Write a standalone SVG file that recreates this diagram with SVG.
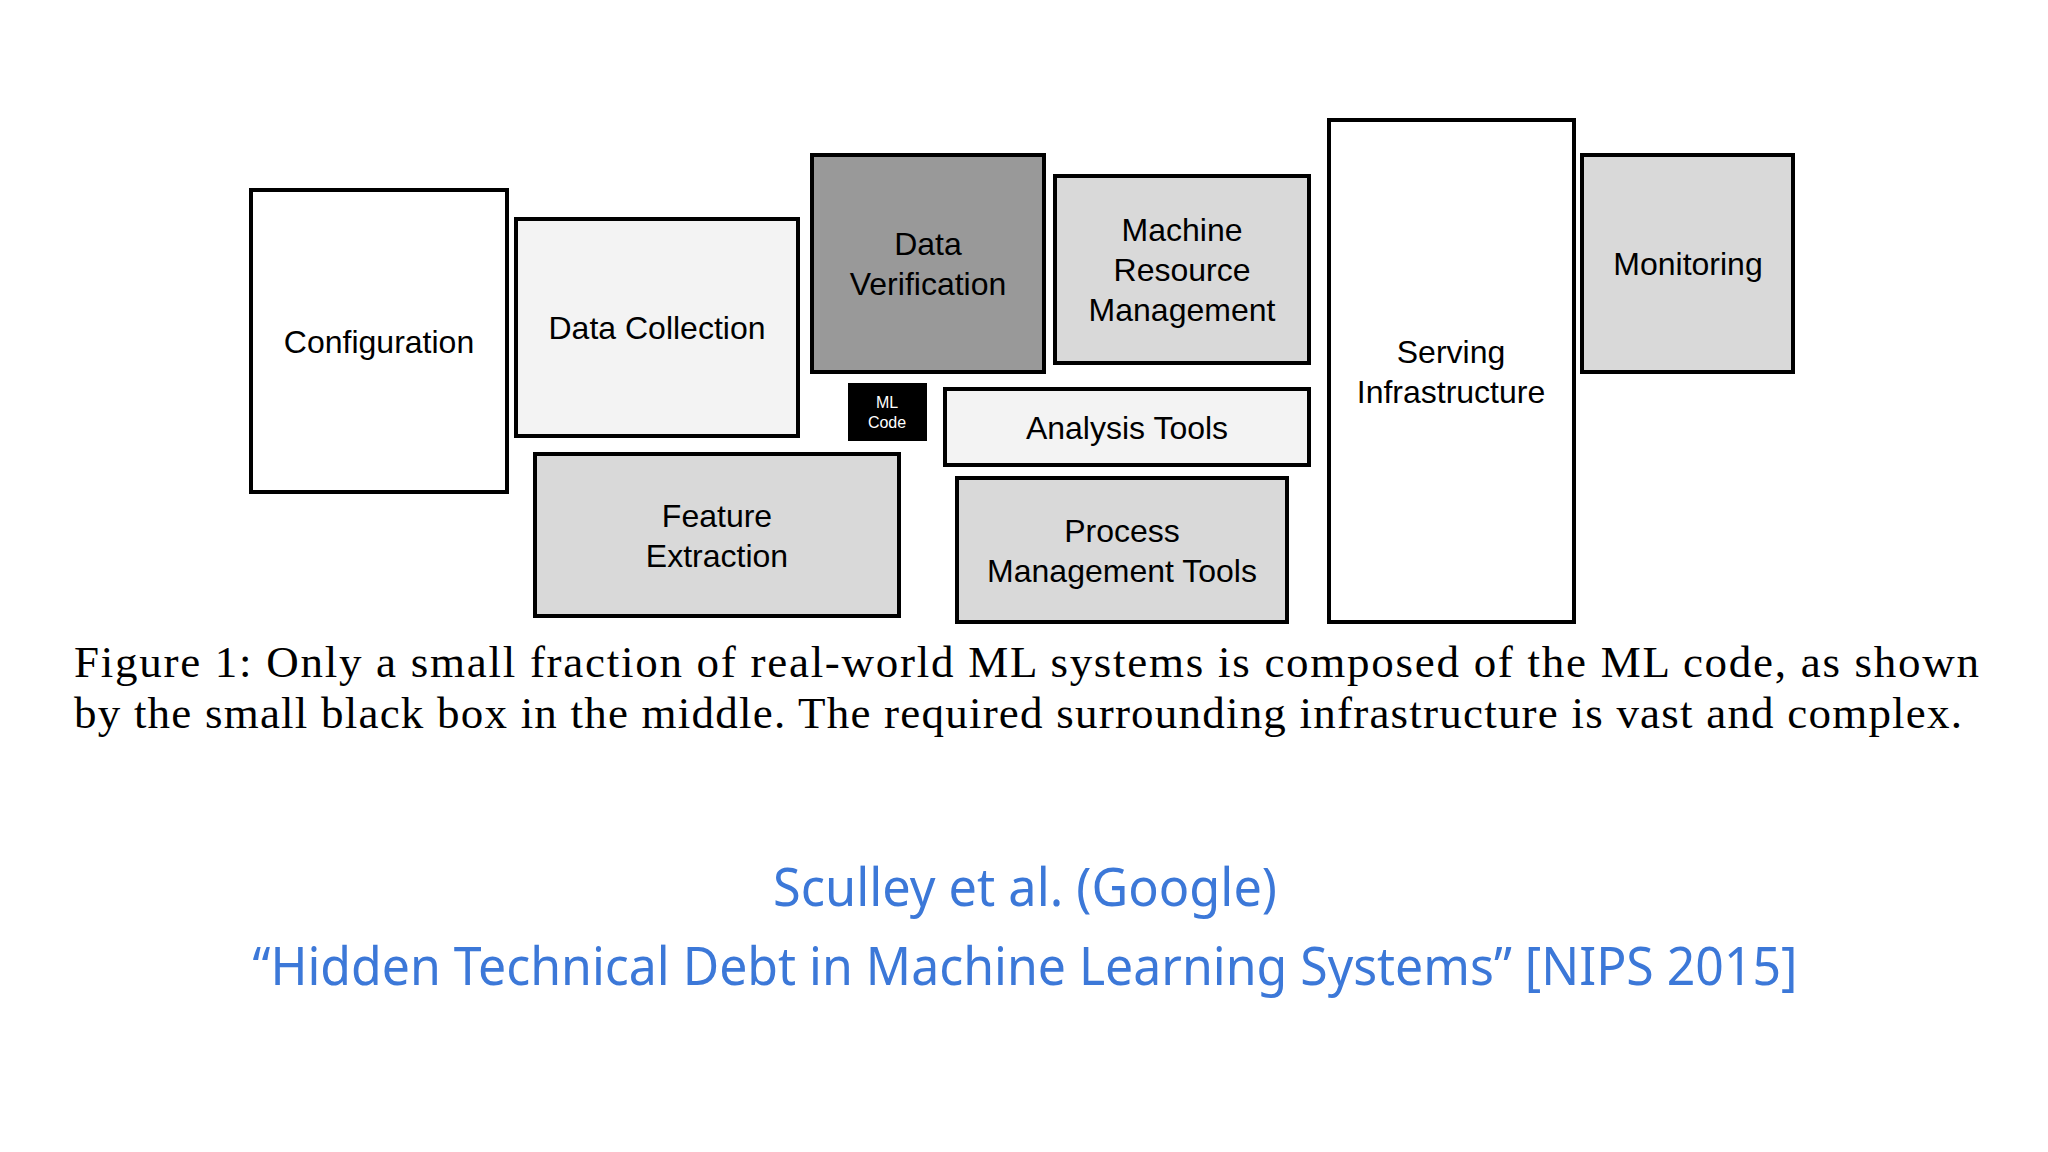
<svg xmlns="http://www.w3.org/2000/svg" width="2048" height="1152" viewBox="0 0 2048 1152">
<style>
.b{stroke:#000;stroke-width:4}
.t{font-family:"Liberation Sans",Arial,sans-serif;font-size:32px;text-anchor:middle;fill:#000}
.c{font-family:"Liberation Serif","Times New Roman",serif;font-size:45px;fill:#000}
.s{font-family:"Noto Sans",sans-serif;font-size:52px;fill:#3c78d8;text-anchor:middle}
</style>
<rect width="2048" height="1152" fill="#fff"/>
<g id="configuration"><rect class="b" x="251" y="190" width="256" height="302" fill="#fff"/><text class="t" x="379" y="353">Configuration</text></g>
<g id="data-collection"><rect class="b" x="516" y="219" width="282" height="217" fill="#f3f3f3"/><text class="t" x="657" y="339">Data Collection</text></g>
<g id="data-verification"><rect class="b" x="812" y="155" width="232" height="217" fill="#999"/><text class="t" x="928" y="255">Data</text><text class="t" x="928" y="295">Verification</text></g>
<g id="machine-resource"><rect class="b" x="1055" y="176" width="254" height="187" fill="#d9d9d9"/><text class="t" x="1182" y="241">Machine</text><text class="t" x="1182" y="281">Resource</text><text class="t" x="1182" y="321">Management</text></g>
<g id="ml-code"><rect x="848" y="383" width="79" height="58" fill="#000"/><text class="t" x="887" y="408" style="font-size:16px;fill:#fff">ML</text><text class="t" x="887" y="428" style="font-size:16px;fill:#fff">Code</text></g>
<g id="analysis-tools"><rect class="b" x="945" y="389" width="364" height="76" fill="#f3f3f3"/><text class="t" x="1127" y="439">Analysis Tools</text></g>
<g id="feature-extraction"><rect class="b" x="535" y="454" width="364" height="162" fill="#d9d9d9"/><text class="t" x="717" y="527">Feature</text><text class="t" x="717" y="567">Extraction</text></g>
<g id="process-management"><rect class="b" x="957" y="478" width="330" height="144" fill="#d9d9d9"/><text class="t" x="1122" y="542">Process</text><text class="t" x="1122" y="582">Management Tools</text></g>
<g id="serving"><rect class="b" x="1329" y="120" width="245" height="502" fill="#fff"/><text class="t" x="1451" y="363">Serving</text><text class="t" x="1451" y="403">Infrastructure</text></g>
<g id="monitoring"><rect class="b" x="1582" y="155" width="211" height="217" fill="#d9d9d9"/><text class="t" x="1688" y="275">Monitoring</text></g>
<g id="connectors"/>
<text class="c" x="74" y="677" textLength="1905" lengthAdjust="spacing">Figure 1: Only a small fraction of real-world ML systems is composed of the ML code, as shown</text>
<text class="c" x="74" y="728" textLength="1888" lengthAdjust="spacing">by the small black box in the middle. The required surrounding infrastructure is vast and complex.</text>
<text class="s" x="1025" y="906" textLength="504" lengthAdjust="spacingAndGlyphs">Sculley et al. (Google)</text>
<text class="s" x="1025" y="985" textLength="1545" lengthAdjust="spacingAndGlyphs">“Hidden Technical Debt in Machine Learning Systems” [NIPS 2015]</text>
</svg>
